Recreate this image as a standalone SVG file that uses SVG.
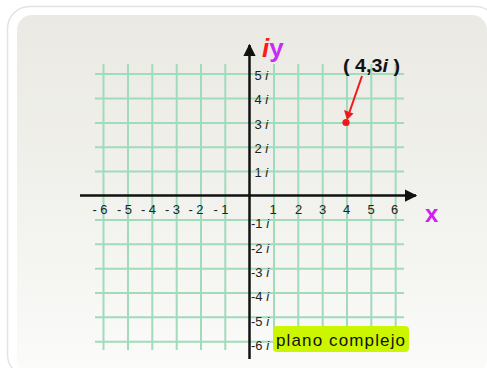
<svg xmlns="http://www.w3.org/2000/svg" width="487" height="368" viewBox="0 0 487 368">
<style>
.grid line{stroke:#a0dbbc;stroke-width:2}
.axis{stroke:#111;stroke-width:2.5;fill:none}
.lbl{font-family:"Liberation Sans",Arial,sans-serif;font-size:13px;fill:#222}
.it{font-style:italic}
</style>
<defs>
<linearGradient id="bg" x1="0" y1="0" x2="0" y2="1">
<stop offset="0" stop-color="#eae9e3"/>
<stop offset="0.6" stop-color="#f3f3ef"/>
<stop offset="1" stop-color="#fbfbfa"/>
</linearGradient>
<marker id="ah" viewBox="0 0 10 10" refX="9" refY="5" markerWidth="5" markerHeight="5" orient="auto"><path d="M0,0 L10,5 L0,10 z" fill="#111"/></marker>
</defs>
<rect x="7.5" y="6.5" width="490" height="370" rx="22" fill="#fff" stroke="#e3e3e3" stroke-width="1.5"/>
<rect x="17" y="15" width="470" height="360" rx="15" fill="url(#bg)"/>
<g class="grid" id="grid">
<line x1="95" y1="74" x2="404" y2="74"/>
<line x1="95" y1="98.5" x2="404" y2="98.5"/>
<line x1="95" y1="123" x2="404" y2="123"/>
<line x1="95" y1="147.2" x2="404" y2="147.2"/>
<line x1="95" y1="171.5" x2="404" y2="171.5"/>
<line x1="95" y1="220" x2="404" y2="220"/>
<line x1="95" y1="244.3" x2="404" y2="244.3"/>
<line x1="95" y1="268.7" x2="404" y2="268.7"/>
<line x1="95" y1="293" x2="404" y2="293"/>
<line x1="95" y1="317.3" x2="404" y2="317.3"/>
<line x1="95" y1="341.7" x2="404" y2="341.7"/>
<line x1="103.5" y1="64" x2="103.5" y2="350"/>
<line x1="128" y1="64" x2="128" y2="350"/>
<line x1="152.3" y1="64" x2="152.3" y2="350"/>
<line x1="176.7" y1="64" x2="176.7" y2="350"/>
<line x1="201" y1="64" x2="201" y2="350"/>
<line x1="225.3" y1="64" x2="225.3" y2="350"/>
<line x1="274" y1="64" x2="274" y2="350"/>
<line x1="298.3" y1="64" x2="298.3" y2="350"/>
<line x1="322.7" y1="64" x2="322.7" y2="350"/>
<line x1="347" y1="64" x2="347" y2="350"/>
<line x1="371.3" y1="64" x2="371.3" y2="350"/>
<line x1="395.7" y1="64" x2="395.7" y2="350"/>
</g>
<g id="connectors">
<line class="axis" x1="80" y1="195.5" x2="416" y2="195.5" marker-end="url(#ah)"/>
<line class="axis" x1="249.5" y1="359" x2="249.5" y2="45" marker-end="url(#ah)"/>
<line x1="362" y1="76" x2="349.5" y2="112" stroke="#f01818" stroke-width="2"/>
<path d="M344,110 L353.5,113.5 L347,120 z" fill="#f01818"/>
</g>
<g id="xlabels" class="lbl" text-anchor="middle">
<text x="100" y="214">- 6</text>
<text x="124.5" y="214">- 5</text>
<text x="148.5" y="214">- 4</text>
<text x="172.5" y="214">- 3</text>
<text x="196" y="214">- 2</text>
<text x="221" y="214">- 1</text>
<text x="273" y="214">1</text>
<text x="298.5" y="214">2</text>
<text x="322.5" y="214">3</text>
<text x="346.5" y="214">4</text>
<text x="371" y="214">5</text>
<text x="394.5" y="214">6</text>
</g>
<g id="ylabels" class="lbl">
<text x="254.5" y="79.5">5 <tspan class="it">i</tspan></text>
<text x="254.5" y="104">4 <tspan class="it">i</tspan></text>
<text x="254.5" y="128.5">3 <tspan class="it">i</tspan></text>
<text x="254.5" y="152.5">2 <tspan class="it">i</tspan></text>
<text x="254.5" y="177">1 <tspan class="it">i</tspan></text>
<text x="251" y="228">-1 <tspan class="it">i</tspan></text>
<text x="251" y="252.5">-2 <tspan class="it">i</tspan></text>
<text x="251" y="277">-3 <tspan class="it">i</tspan></text>
<text x="251" y="301">-4 <tspan class="it">i</tspan></text>
<text x="251" y="325.5">-5 <tspan class="it">i</tspan></text>
<text x="251" y="350">-6 <tspan class="it">i</tspan></text>
</g>
<g id="axis-names" font-family="'Liberation Sans',Arial,sans-serif" font-weight="bold">
<text x="262" y="57" font-size="26"><tspan fill="#ff1a1a" font-style="italic">i</tspan><tspan fill="#c82cf5">y</tspan></text>
<text x="425" y="222" font-size="24" fill="#d21cf2">x</text>
</g>
<g id="point">
<circle cx="346" cy="122.5" r="3.6" fill="#f01818"/>
<text x="343" y="72" font-family="'Liberation Sans',Arial,sans-serif" font-size="19" font-weight="bold" fill="#111" textLength="57" lengthAdjust="spacingAndGlyphs">( 4,3<tspan font-style="italic">i</tspan> )</text>
</g>
<g id="plano-complejo">
<rect x="273" y="326" width="136" height="26" rx="4" fill="#ccf600"/>
<text x="276" y="345.5" font-family="'Liberation Sans',Arial,sans-serif" font-size="17" fill="#111" textLength="129" lengthAdjust="spacing">plano complejo</text>
</g>
</svg>
